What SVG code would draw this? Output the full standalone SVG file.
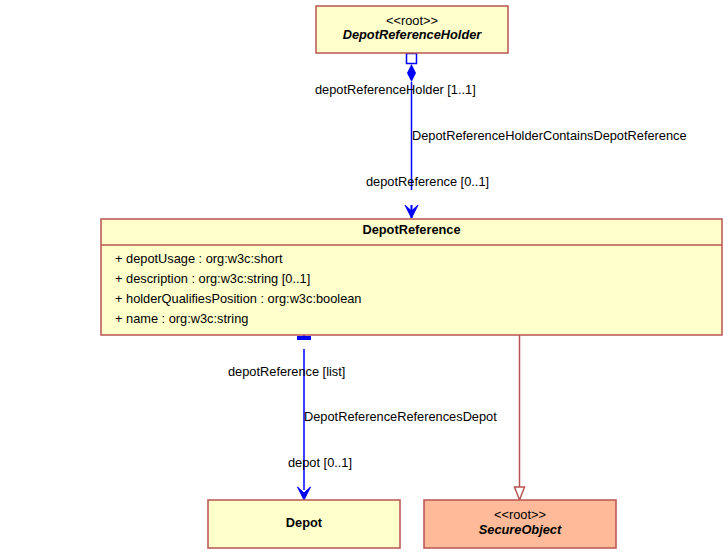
<svg xmlns="http://www.w3.org/2000/svg" width="728" height="555" viewBox="0 0 728 555">
<style>
.box{fill:#FFFFCC;stroke:#B85450;stroke-width:1.5}
.sec{fill:#FFBB99;stroke:#B85450;stroke-width:1.5}
text{font-family:"Liberation Sans",Arial,sans-serif;font-size:12.8px;fill:#000}
.b{font-weight:bold}
.bi{font-weight:bold;font-style:italic}
.c{text-anchor:middle}
.as{stroke:#0000FF;stroke-width:1.5;fill:none}
.gen{stroke:#B85450;stroke-width:1.5;fill:none}
</style>
<rect width="728" height="555" fill="#FFFFFF"/>
<g id="connectors">
<rect x="406.5" y="53.5" width="10" height="10" fill="#FFFFFF" stroke="#0000FF" stroke-width="1.5"/>
<polygon points="411.5,64 416,73 411.5,82 407,73" fill="#0000FF"/>
<line class="as" x1="411.5" y1="82" x2="411.5" y2="190"/>
<path d="M405,205 L411.5,218 L418,205 L411.5,211 Z" fill="#0000FF" stroke="#0000FF" stroke-width="1"/>
<line x1="411.5" y1="205" x2="411.5" y2="218" stroke="#0000FF" stroke-width="2"/>
<rect x="297" y="336" width="14" height="4" fill="#0000FF"/>
<line x1="304" y1="335" x2="304" y2="340" stroke="#0000FF" stroke-width="2"/>
<line class="as" x1="304" y1="349" x2="304" y2="490"/>
<path d="M297.5,487 L304,500 L310.5,487 L304,493 Z" fill="#0000FF" stroke="#0000FF" stroke-width="1"/>
<line class="gen" x1="519.5" y1="335" x2="519.5" y2="487"/>
<polygon class="gen" points="514.5,487 524.5,487 519.5,500" fill="#FFFFFF"/>
<text x="315" y="94">depotReferenceHolder [1..1]</text>
<text x="412" y="140">DepotReferenceHolderContainsDepotReference</text>
<text x="366" y="186">depotReference [0..1]</text>
<text x="228" y="376">depotReference [list]</text>
<text x="304" y="421">DepotReferenceReferencesDepot</text>
<text x="288" y="467">depot [0..1]</text>
</g>
<g id="DepotReferenceHolder">
<rect class="box" x="316" y="6" width="192" height="47"/>
<text class="c" x="412" y="25">&lt;&lt;root&gt;&gt;</text>
<text class="c bi" x="412" y="39">DepotReferenceHolder</text>
</g>
<g id="DepotReference">
<rect class="box" x="101" y="219" width="621" height="116"/>
<line x1="101" y1="245" x2="722" y2="245" stroke="#B85450" stroke-width="1.5"/>
<text class="c b" x="411.5" y="234">DepotReference</text>
<text x="115" y="263">+ depotUsage : org:w3c:short</text>
<text x="115" y="283">+ description : org:w3c:string [0..1]</text>
<text x="115" y="303">+ holderQualifiesPosition : org:w3c:boolean</text>
<text x="115" y="323">+ name : org:w3c:string</text>
</g>
<g id="Depot">
<rect class="box" x="208" y="500" width="192" height="48"/>
<text class="c b" x="304" y="527">Depot</text>
</g>
<g id="SecureObject">
<rect class="sec" x="424" y="500" width="192" height="48"/>
<text class="c" x="520" y="519">&lt;&lt;root&gt;&gt;</text>
<text class="c bi" x="520" y="534">SecureObject</text>
</g>
</svg>
